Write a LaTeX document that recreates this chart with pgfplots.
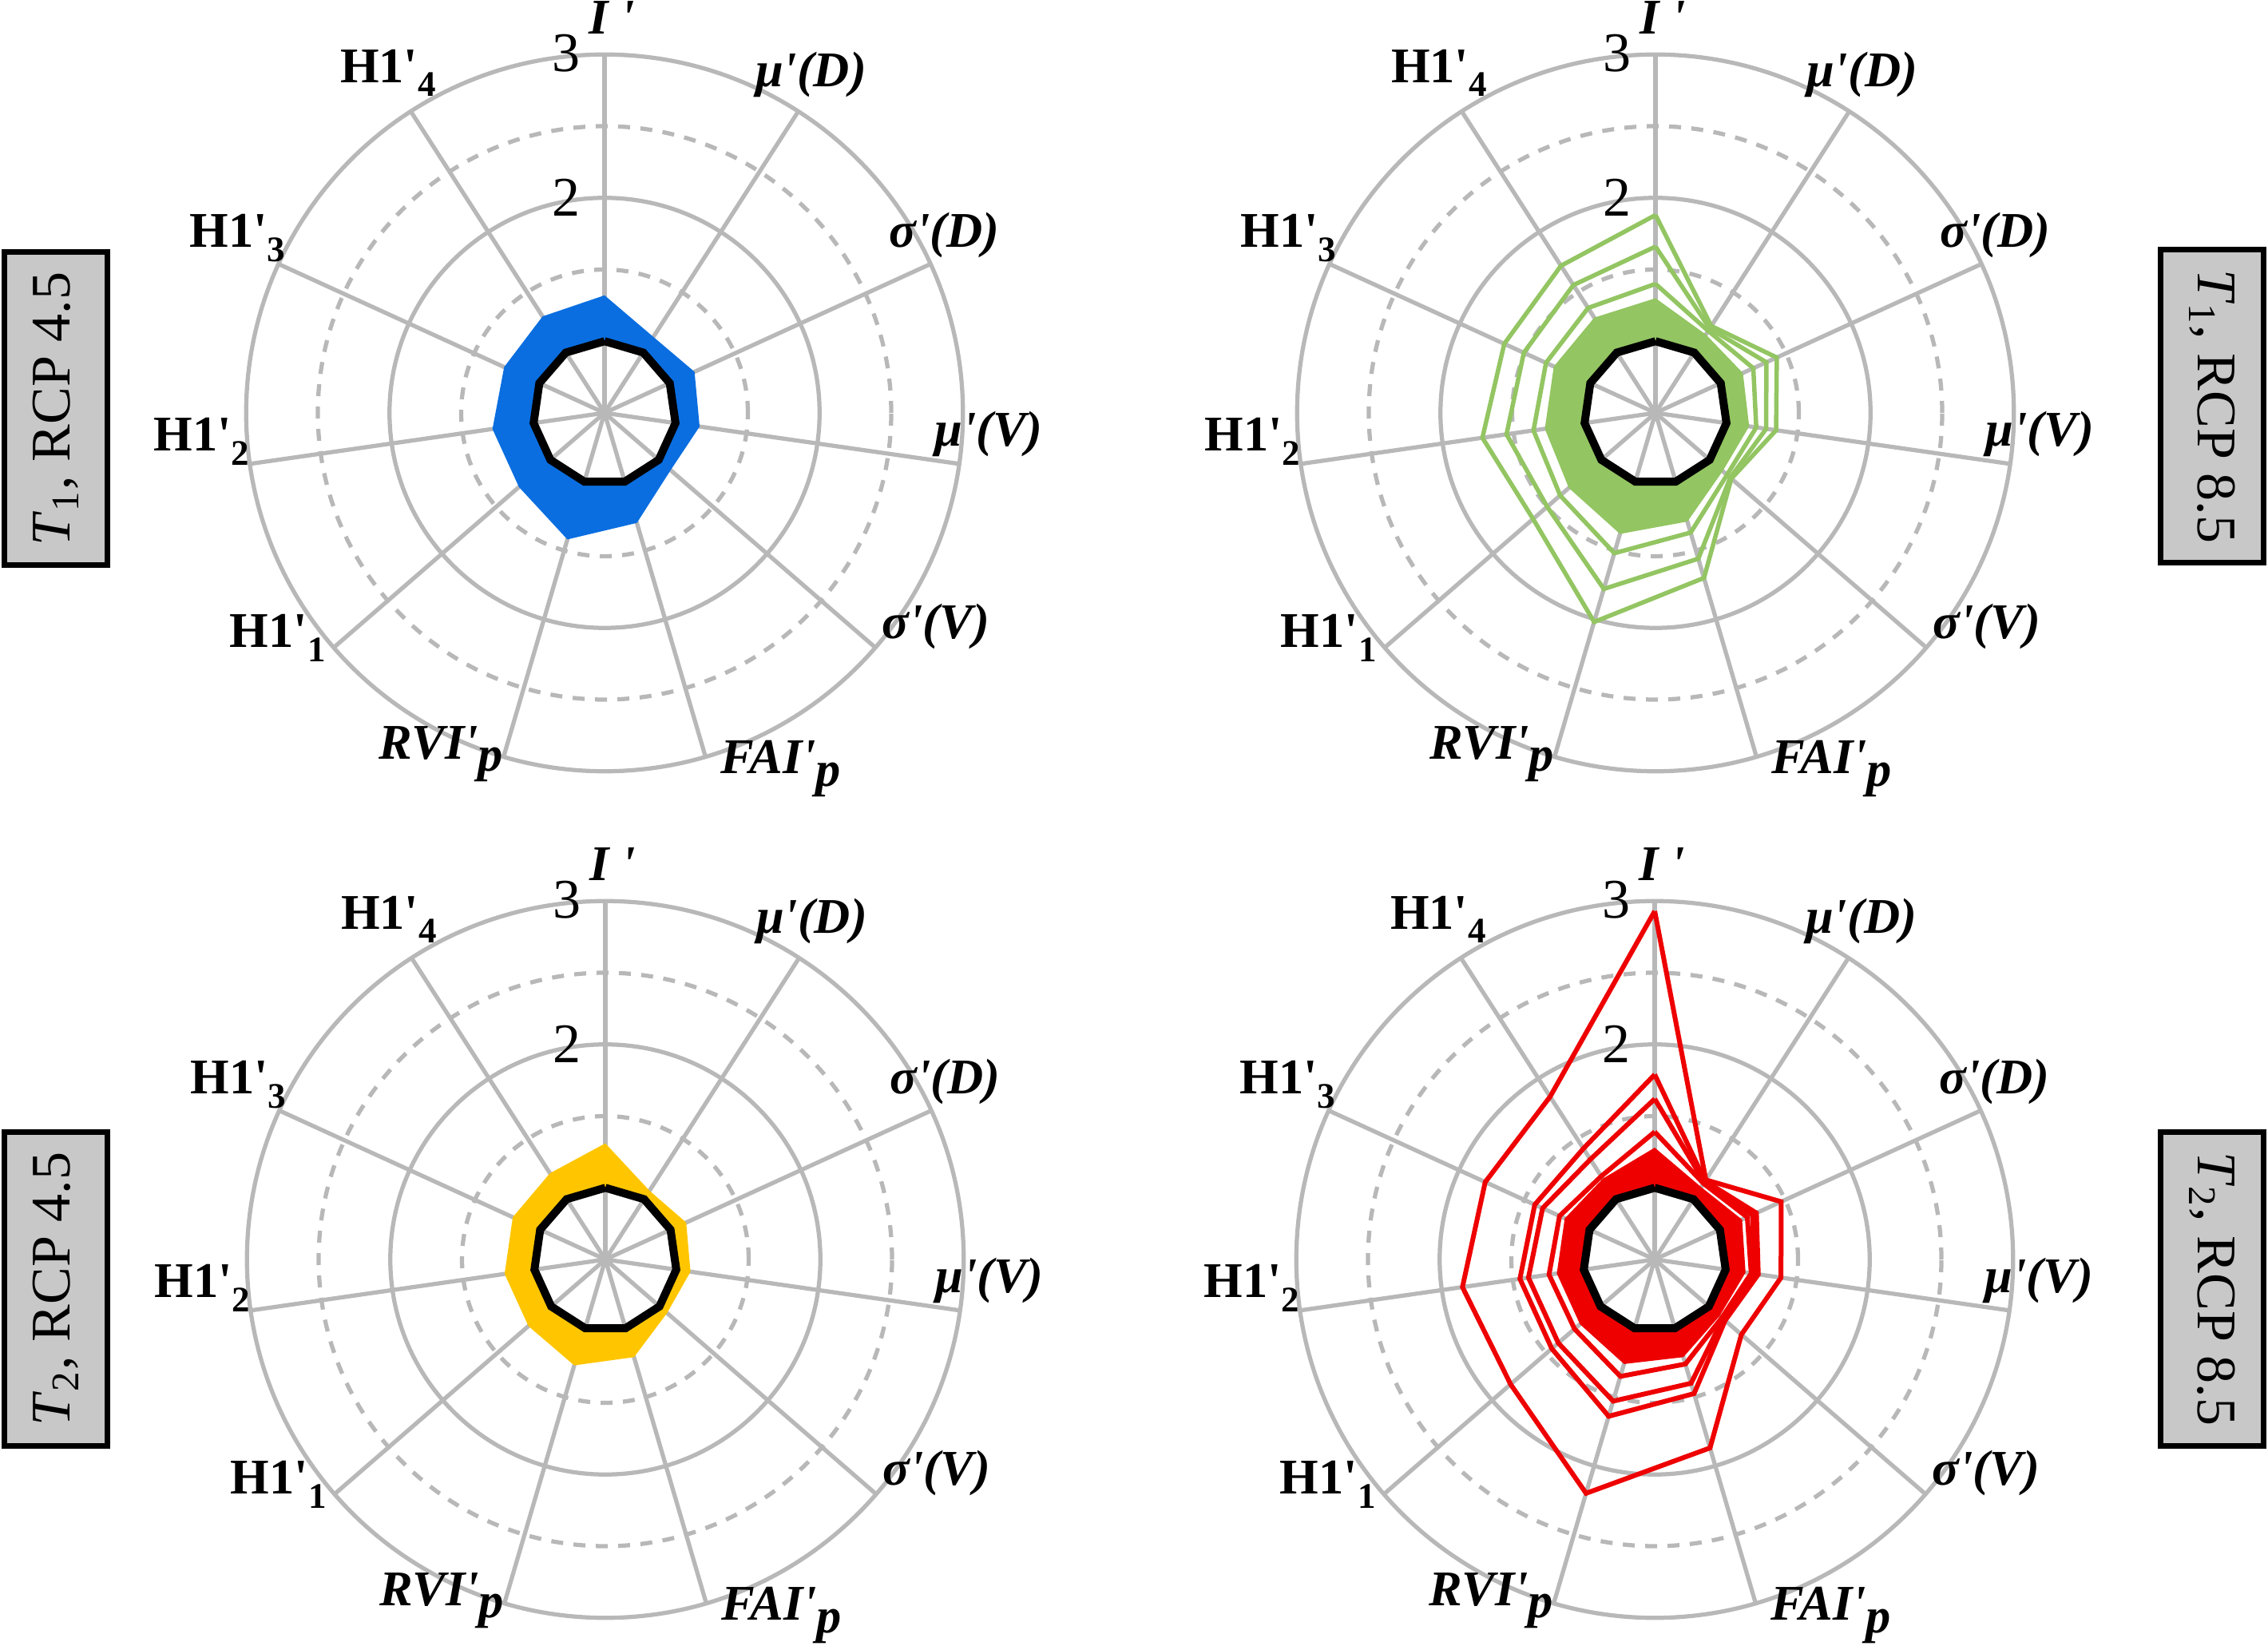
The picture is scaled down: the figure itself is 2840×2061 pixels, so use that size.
\documentclass[border=0pt]{standalone}
\usepackage{pgfplots}
\pgfplotsset{compat=1.18}
\usepackage{pgfplotstable}
\usepackage{fontspec}
\setmainfont{Liberation Serif}
\definecolor{gridc}{HTML}{B8B8B8}
\definecolor{boxc}{HTML}{C8C8C8}
\definecolor{cblue}{HTML}{0A6EE0}
\definecolor{cgreen}{HTML}{93C562}
\definecolor{cyellow}{HTML}{FFC600}
\definecolor{cred}{HTML}{EE0000}
\newcommand{\p}{\textquotesingle}

% angles: I', mu(D), sigma(D), mu(V), sigma(V), FAI, RVI, H1_1, H1_2, H1_3, H1_4, (I')
\pgfplotstableread{
a v
90 1.00
57.2727 1.00
24.5455 1.00
-8.1818 1.00
-40.9091 1.00
-73.6364 1.00
-106.3636 1.00
-139.0909 1.00
-171.8182 1.00
-204.5455 1.00
-237.2727 1.00
-270 1.00
}\base

\pgfplotstableread{
a v
90 1.32
57.2727 1.13
24.5455 1.19
-8.1818 1.17
-40.9091 1.11
-73.6364 1.30
-106.3636 1.42
-139.0909 1.29
-171.8182 1.29
-204.5455 1.27
-237.2727 1.30
-270 1.32
-270 1.00
-237.2727 1.00
-204.5455 1.00
-171.8182 1.00
-139.0909 1.00
-106.3636 1.00
-73.6364 1.00
-40.9091 1.00
-8.1818 1.00
24.5455 1.00
57.2727 1.00
90 1.00
}\blueband

\pgfplotstableread{
a v
90 1.31
57.2727 1.07
24.5455 1.12
-8.1818 1.10
-40.9091 1.07
-73.6364 1.21
-106.3636 1.27
-139.0909 1.21
-171.8182 1.21
-204.5455 1.21
-237.2727 1.215
-270 1.31
-270 1.00
-237.2727 1.00
-204.5455 1.00
-171.8182 1.00
-139.0909 1.00
-106.3636 1.00
-73.6364 1.00
-40.9091 1.00
-8.1818 1.00
24.5455 1.00
57.2727 1.00
90 1.00
}\yellowband

\pgfplotstableread{
a v
90 1.30
57.2727 1.15
24.5455 1.17
-8.1818 1.16
-40.9091 1.12
-73.6364 1.29
-106.3636 1.38
-139.0909 1.30
-171.8182 1.28
-204.5455 1.28
-237.2727 1.29
-270 1.30
-270 1.00
-237.2727 1.00
-204.5455 1.00
-171.8182 1.00
-139.0909 1.00
-106.3636 1.00
-73.6364 1.00
-40.9091 1.00
-8.1818 1.00
24.5455 1.00
57.2727 1.00
90 1.00
}\greenband

\pgfplotstableread{
a L1 L2 L3
90 1.88 1.66 1.40
57.2727 1.22 1.20 1.18
24.5455 1.43 1.35 1.25
-8.1818 1.35 1.28 1.21
-40.9091 1.20 1.19 1.16
-73.6364 1.70 1.56 1.37
-106.3636 2.02 1.78 1.52
-139.0909 1.63 1.50 1.38
-171.8182 1.72 1.55 1.36
-204.5455 1.66 1.51 1.34
-237.2727 1.72 1.56 1.37
-270 1.88 1.66 1.40
}\greenlines

\pgfplotstableread{
a v
90 1.28
57.2727 1.10
24.5455 1.17
-8.1818 1.14
-40.9091 1.10
-73.6364 1.21
-106.3636 1.26
-139.0909 1.19
-171.8182 1.19
-204.5455 1.19
-237.2727 1.17
-270 1.28
-270 1.00
-237.2727 1.00
-204.5455 1.00
-171.8182 1.00
-139.0909 1.00
-106.3636 1.00
-73.6364 1.00
-40.9091 1.00
-8.1818 1.00
24.5455 1.00
57.2727 1.00
90 1.00
}\redband

\pgfplotstableread{
a R1 RA RB RC
90 2.93 1.79 1.62 1.39
57.2727 1.16 1.15 1.14 1.13
24.5455 1.47 1.28 1.25 1.21
-8.1818 1.39 1.23 1.20 1.18
-40.9091 1.30 1.15 1.13 1.12
-73.6364 1.87 1.475 1.40 1.26
-106.3636 2.20 1.64 1.53 1.35
-139.0909 1.83 1.45 1.39 1.24
-171.8182 1.855 1.45 1.39 1.245
-204.5455 1.80 1.42 1.36 1.23
-237.2727 1.85 1.42 1.33 1.19
-270 2.93 1.79 1.62 1.39
}\redlines

\tikzset{gridline/.style={draw=gridc, line width=1.05pt},
  lab/.style={font=\fontsize{12.5}{14}\selectfont, inner sep=0pt}}

\newcommand{\radarframe}[2]{%
\begin{scope}[shift={(#1,#2)}, x=35.9pt, y=35.9pt]
  \draw[gridline] (0,0) circle[radius=53.85pt];
  \draw[gridline] (0,0) circle[radius=89.75pt];
  \draw[gridline, dash pattern=on 3pt off 2.6pt] (0,0) circle[radius=35.9pt];
  \draw[gridline, dash pattern=on 3pt off 2.6pt] (0,0) circle[radius=71.8pt];
  \foreach \ang in {90,57.2727,24.5455,-8.1818,-40.9091,-73.6364,-106.3636,-139.0909,-171.8182,-204.5455,-237.2727}
    \draw[gridline] (0,0) -- (\ang:89.75pt);
  \node[lab, font=\fontsize{14}{16}\selectfont] at (-0.27,1.50) {2};
  \node[lab, font=\fontsize{14}{16}\selectfont] at (-0.27,2.51) {3};
  \node[lab] at (0.05,2.76) {\textbf{\textit{I \p}}};
  \node[lab] at (1.44,2.36) {\textbf{\textit{μ\p(D)}}};
  \node[lab] at (2.37,1.24) {\textbf{\textit{σ\p(D)}}};
  \node[lab] at (2.68,-0.15) {\textbf{\textit{μ\p(V)}}};
  \node[lab] at (2.31,-1.49) {\textbf{\textit{σ\p(V)}}};
  \node[lab] at (1.23,-2.48) {\textbf{\textit{FAI\p\raisebox{-0.55ex}{p}}}};
  \node[lab] at (-1.14,-2.38) {\textbf{\textit{RVI\p\raisebox{-0.55ex}{p}}}};
  \node[lab] at (-2.28,-1.57) {\textbf{H1\p\raisebox{-0.6ex}{\fontsize{9}{10}\selectfont 1}}};
  \node[lab] at (-2.81,-0.20) {\textbf{H1\p\raisebox{-0.6ex}{\fontsize{9}{10}\selectfont 2}}};
  \node[lab] at (-2.56,1.22) {\textbf{H1\p\raisebox{-0.6ex}{\fontsize{9}{10}\selectfont 3}}};
  \node[lab] at (-1.51,2.37) {\textbf{H1\p\raisebox{-0.6ex}{\fontsize{9}{10}\selectfont 4}}};
\end{scope}}

\newcommand{\sidebox}[4]{% x, y, rotation, text
  \node[draw=black, line width=1.4pt, fill=boxc, rotate=#3,
        minimum width=78.4pt, minimum height=25.8pt, inner sep=0pt,
        font=\fontsize{14}{16}\selectfont] at (#1,#2) {#4};}

\pgfplotsset{radar/.style={hide axis, anchor=center, x=35.9pt, y=35.9pt,
  xmin=-2.5, xmax=2.5, ymin=-2.5, ymax=2.5, clip=false, data cs=polar}}

\begin{document}
\begin{tikzpicture}[x=0.2pt,y=-0.2pt]
\path[use as bounding box] (0,0) rectangle (2840,2061);

\radarframe{757}{517}
\radarframe{2073}{517}
\radarframe{758}{1577}
\radarframe{2072}{1577}

\sidebox{70}{512}{90}{\textit{T}\textsubscript{1}, RCP 4.5}
\sidebox{2770}{509}{-90}{\textit{T}\textsubscript{1}, RCP 8.5}
\sidebox{70}{1614}{90}{\textit{T}\textsubscript{2}, RCP 4.5}
\sidebox{2770}{1614}{-90}{\textit{T}\textsubscript{2}, RCP 8.5}

% T1 RCP 4.5
\begin{axis}[radar, at={(151.4pt,-103.4pt)}]
\addplot[draw=none, fill=cblue, even odd rule] table[x=a, y expr=\thisrow{v}-0.5] {\blueband};
\addplot[black, line width=2pt] table[x=a, y expr=\thisrow{v}-0.5] {\base};
\end{axis}

% T1 RCP 8.5
\begin{axis}[radar, at={(414.6pt,-103.4pt)}]
\addplot[draw=none, fill=cgreen, even odd rule] table[x=a, y expr=\thisrow{v}-0.5] {\greenband};
\addplot[cgreen, line width=1.1pt] table[x=a, y expr=\thisrow{L1}-0.5] {\greenlines};
\addplot[cgreen, line width=1.1pt] table[x=a, y expr=\thisrow{L2}-0.5] {\greenlines};
\addplot[cgreen, line width=1.1pt] table[x=a, y expr=\thisrow{L3}-0.5] {\greenlines};
\addplot[black, line width=2pt] table[x=a, y expr=\thisrow{v}-0.5] {\base};
\end{axis}

% T2 RCP 4.5
\begin{axis}[radar, at={(151.6pt,-315.4pt)}]
\addplot[draw=none, fill=cyellow, even odd rule] table[x=a, y expr=\thisrow{v}-0.5] {\yellowband};
\addplot[black, line width=2pt] table[x=a, y expr=\thisrow{v}-0.5] {\base};
\end{axis}

% T2 RCP 8.5
\begin{axis}[radar, at={(414.4pt,-315.4pt)}]
\addplot[draw=none, fill=cred, even odd rule] table[x=a, y expr=\thisrow{v}-0.5] {\redband};
\addplot[cred, line width=1.2pt] table[x=a, y expr=\thisrow{R1}-0.5] {\redlines};
\addplot[cred, line width=1.2pt] table[x=a, y expr=\thisrow{RA}-0.5] {\redlines};
\addplot[cred, line width=1.2pt] table[x=a, y expr=\thisrow{RB}-0.5] {\redlines};
\addplot[cred, line width=1.2pt] table[x=a, y expr=\thisrow{RC}-0.5] {\redlines};
\addplot[black, line width=2pt] table[x=a, y expr=\thisrow{v}-0.5] {\base};
\end{axis}
\end{tikzpicture}
\end{document}
